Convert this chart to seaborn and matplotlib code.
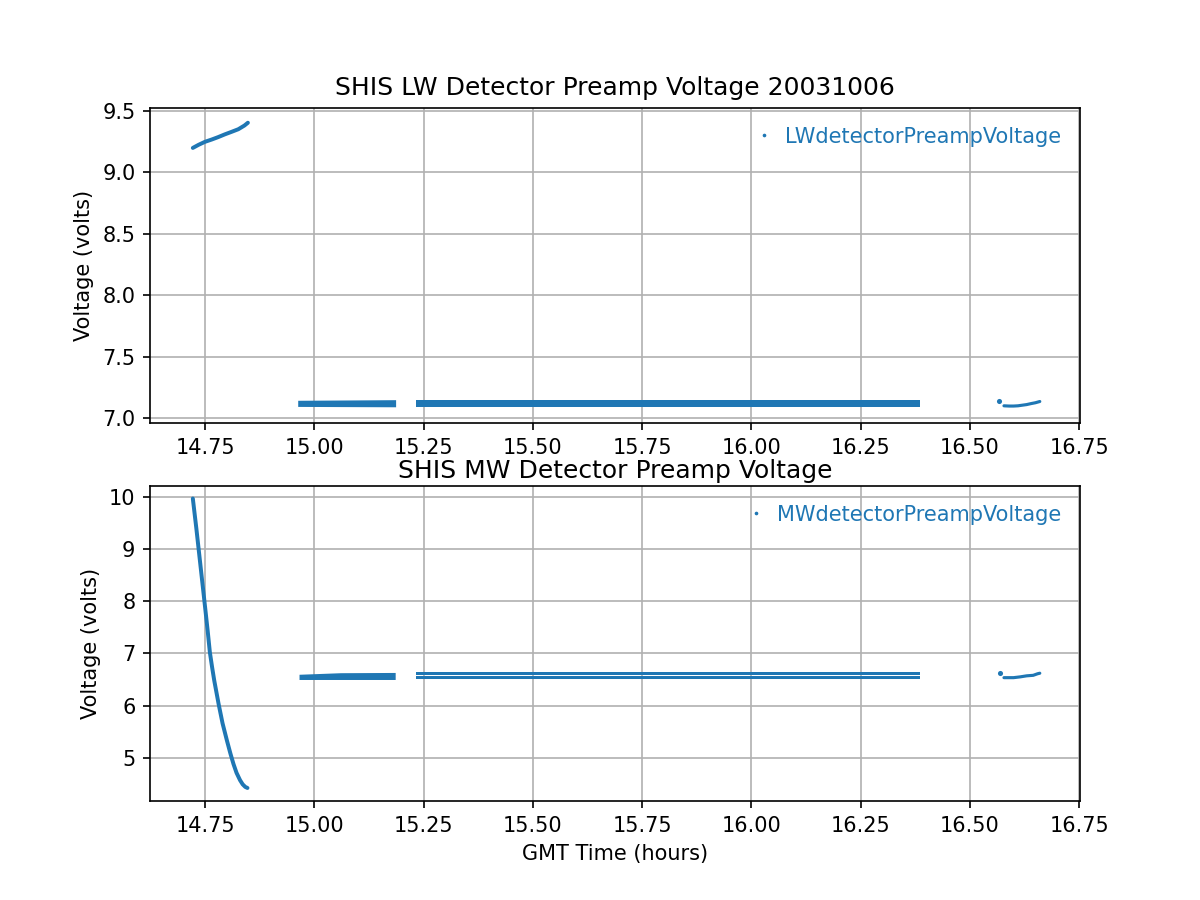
import numpy as np
import matplotlib
matplotlib.use('Agg')
import matplotlib.pyplot as plt
from matplotlib.lines import Line2D
import seaborn as sns

# ── Styling: plain matplotlib-like look ───────────────────
sns.set_style("ticks", rc={
    'axes.grid': True, 'grid.color': '#b0b0b0', 'grid.linestyle': '-',
    'axes.edgecolor': 'black', 'axes.labelcolor': 'black',
    'xtick.color': 'black', 'ytick.color': 'black', 'text.color': 'black',
    'axes.facecolor': 'white', 'figure.facecolor': 'white',
})
plt.rcParams['font.family'] = ['DejaVu Sans']
BLUE = '#1f77b4'

# ── Data ──────────────────────────────────────────────────
# LW detector: warm-up curve, two noisy plateaus, short tail
lw_curve_t = [14.722, 14.735, 14.750, 14.765, 14.780, 14.795, 14.810, 14.826, 14.840, 14.848]
lw_curve_v = [9.200, 9.225, 9.250, 9.268, 9.288, 9.310, 9.330, 9.352, 9.382, 9.405]

lw_band_t = [[14.962, 15.186], [15.232, 16.385]]
lw_band_lo = [[7.095, 7.092], [7.092, 7.092]]
lw_band_hi = [[7.145, 7.150], [7.150, 7.150]]

lw_tail_t = [16.578, 16.590, 16.600, 16.610, 16.620, 16.630, 16.640, 16.650, 16.660]
lw_tail_v = [7.100, 7.098, 7.098, 7.100, 7.105, 7.110, 7.118, 7.125, 7.135]
lw_lone_t = [16.567]
lw_lone_v = [7.138]

# MW detector: cool-down curve, plateaus, short tail
mw_curve_t = [14.722, 14.730, 14.739, 14.750, 14.756, 14.761, 14.766, 14.771, 14.781, 14.790,
              14.800, 14.808, 14.815, 14.822, 14.830, 14.836, 14.842, 14.847]
mw_curve_v = [9.97, 9.40, 8.72, 7.89, 7.43, 7.02, 6.74, 6.48, 6.03, 5.66,
              5.33, 5.08, 4.88, 4.71, 4.57, 4.49, 4.44, 4.42]

mw_band_t = [[14.965, 15.060, 15.185], [15.232, 16.385], [15.232, 16.385]]
mw_band_lo = [[6.500, 6.500, 6.500], [6.500, 6.500], [6.577, 6.577]]
mw_band_hi = [[6.600, 6.630, 6.635], [6.573, 6.573], [6.645, 6.645]]

mw_tail_t = [16.578, 16.590, 16.600, 16.615, 16.630, 16.645, 16.655, 16.660]
mw_tail_v = [6.535, 6.535, 6.535, 6.550, 6.570, 6.580, 6.610, 6.620]
mw_lone_t = [16.569]
mw_lone_v = [6.630]

XLIM = (14.624, 16.752)


def draw_panel(ax, curve_t, curve_v, band_t, band_lo, band_hi,
               tail_t, tail_v, lone_t, lone_v, label):
    sns.lineplot(x=curve_t, y=curve_v, ax=ax, color=BLUE, linewidth=1.9,
                 estimator=None, sort=False)
    for t, lo, hi in zip(band_t, band_lo, band_hi):
        ax.fill_between(t, lo, hi, color=BLUE, linewidth=0, zorder=2)
    sns.lineplot(x=tail_t, y=tail_v, ax=ax, color=BLUE, linewidth=1.5,
                 estimator=None, sort=False)
    sns.scatterplot(x=lone_t, y=lone_v, ax=ax, color=BLUE, s=6, linewidth=0)
    ax.set_xlim(*XLIM)
    ax.set_ylabel('Voltage (volts)')
    handle = Line2D([], [], marker='.', linestyle='none', color=BLUE, markersize=1.5)
    ax.legend([handle], [label], loc='upper right', frameon=False, labelcolor=BLUE,
              handlelength=0.8, handletextpad=0.6)


fig, (ax1, ax2) = plt.subplots(2, 1, figsize=(8, 6), dpi=150)

draw_panel(ax1, lw_curve_t, lw_curve_v, lw_band_t, lw_band_lo, lw_band_hi,
           lw_tail_t, lw_tail_v, lw_lone_t, lw_lone_v, 'LWdetectorPreampVoltage')
ax1.set_ylim(6.96, 9.525)
ax1.set_title('SHIS LW Detector Preamp Voltage 20031006')

draw_panel(ax2, mw_curve_t, mw_curve_v, mw_band_t, mw_band_lo, mw_band_hi,
           mw_tail_t, mw_tail_v, mw_lone_t, mw_lone_v, 'MWdetectorPreampVoltage')
ax2.set_ylim(4.17, 10.21)
ax2.set_title('SHIS MW Detector Preamp Voltage', pad=4)
ax2.set_xlabel('GMT Time (hours)')

plt.savefig('out.png', dpi=150, facecolor='white')
